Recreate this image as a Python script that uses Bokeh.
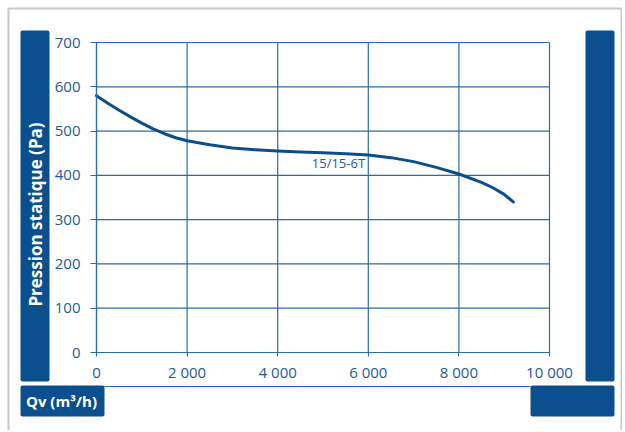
import math
from bokeh.plotting import figure
from bokeh.models import Range1d, FixedTicker, BoxAnnotation, Label
from bokeh.embed import file_html
from bokeh.resources import INLINE

# ---- data ----
flow = [0, 250, 500, 750, 1000, 1250, 1500, 1750, 2000, 2500, 3000, 3500, 4000,
        4500, 5000, 5500, 6000, 6500, 7000, 7500, 8000, 8500, 8750, 9000, 9200]
pressure = [580, 563, 547, 532, 518, 505, 494, 485, 478, 469, 462, 458, 455,
            453, 451, 449, 446, 440, 431, 418, 403, 384, 372, 357, 340]
curve_name = "15/15-6T"
curve_label_pos = (5340, 429)
x_ticks = [0, 2000, 4000, 6000, 8000, 10000]
x_tick_labels = ["0", "2 000", "4 000", "6 000", "8 000", "10 000"]
y_ticks = [0, 100, 200, 300, 400, 500, 600, 700]
y_title = "Pression statique (Pa)"
x_title = "Qv (m³/h)"

# ---- style ----
BAR = "#0b4f8f"
GRID = "#2c6aa9"
TICKTXT = "#1c5a9c"
CURVE = "#0c4e8d"
FONT = "Open Sans"

W, H = 622, 430
# plot area in page pixels
PX0, PX1, PY0, PY1 = 96, 549, 352, 42
XMIN, XMAX, YMIN, YMAX = 0, 10000, 0, 700
sx = (XMAX - XMIN) / (PX1 - PX0)
sy = (YMAX - YMIN) / (PY0 - PY1)
x_range = Range1d(XMIN - PX0 * sx, XMIN + (W - PX0) * sx)
y_range = Range1d(YMIN - (H - PY0) * sy, YMIN + PY0 * sy)

p = figure(width=W, height=H, output_backend="svg", toolbar_location=None,
           title=None, x_range=x_range, y_range=y_range,
           min_border=0)
p.background_fill_color = "white"
p.border_fill_color = "white"
p.outline_line_color = None
p.grid.visible = False

# grid lines
p.segment(x0=x_ticks, y0=[YMIN] * len(x_ticks), x1=x_ticks, y1=[YMAX] * len(x_ticks),
          line_color=GRID, line_width=1.2)
p.segment(x0=[XMIN] * len(y_ticks), y0=y_ticks, x1=[XMAX] * len(y_ticks), y1=y_ticks,
          line_color=GRID, line_width=1.2)

xa = p.xaxis[0]
xa.fixed_location = 0
xa.bounds = (XMIN, XMAX)
xa.ticker = FixedTicker(ticks=x_ticks)
xa.major_label_overrides = {t: l for t, l in zip(x_ticks, x_tick_labels)}
xa.major_tick_in = 0
xa.major_tick_out = 4
xa.major_label_standoff = 5
ya = p.yaxis[0]
ya.fixed_location = 0
ya.bounds = (YMIN, YMAX)
ya.ticker = FixedTicker(ticks=y_ticks)
ya.major_tick_in = 0
ya.major_tick_out = 6
ya.major_label_standoff = 10
for a in (xa, ya):
    a.minor_tick_line_color = None
    a.axis_line_color = GRID
    a.axis_line_width = 1.2
    a.major_tick_line_color = GRID
    a.major_tick_line_width = 1.2
    a.major_label_text_color = TICKTXT
    a.major_label_text_font = FONT
    a.major_label_text_font_size = "15px"

p.line(flow, pressure, line_color=CURVE, line_width=3, line_join="round", line_cap="round")
p.add_layout(Label(x=curve_label_pos[0], y=curve_label_pos[1], text=curve_name,
                   text_font=FONT, text_font_size="13px", text_color=TICKTXT,
                   text_align="center", text_baseline="middle"))

# ---- decorative boxes (screen units; frame == canvas, y measured from bottom) ----
def box(l, r, t, b, **kw):
    ba = BoxAnnotation(left=l, right=r, top=H - t, bottom=H - b,
                       left_units="screen", right_units="screen",
                       top_units="screen", bottom_units="screen", **kw)
    p.add_layout(ba)

box(8, 621, 8, 440, fill_alpha=0, fill_color=None, line_color="#4a4a4a", line_width=2)
box(104, 530, 385.5, 386.5, fill_color=GRID, fill_alpha=1, line_color=None)
box(20, 49, 30, 381, fill_color=BAR, fill_alpha=1, line_color=None, border_radius=2)
box(585, 614, 30, 381, fill_color=BAR, fill_alpha=1, line_color=None, border_radius=2)
box(20, 104, 385, 416, fill_color=BAR, fill_alpha=1, line_color=None, border_radius=2)
box(530, 614, 385, 416, fill_color=BAR, fill_alpha=1, line_color=None, border_radius=2)

p.add_layout(Label(x=35, y=H - 214, x_units="screen", y_units="screen", text=y_title,
                   angle=math.pi / 2, text_align="center", text_baseline="middle",
                   text_color="white", text_font=FONT, text_font_style="bold",
                   text_font_size="17px"))
p.add_layout(Label(x=61, y=H - 400, x_units="screen", y_units="screen", text=x_title,
                   text_align="center", text_baseline="middle",
                   text_color="white", text_font=FONT, text_font_style="bold",
                   text_font_size="15px"))

open("out.html", "w").write(file_html(p, INLINE))
